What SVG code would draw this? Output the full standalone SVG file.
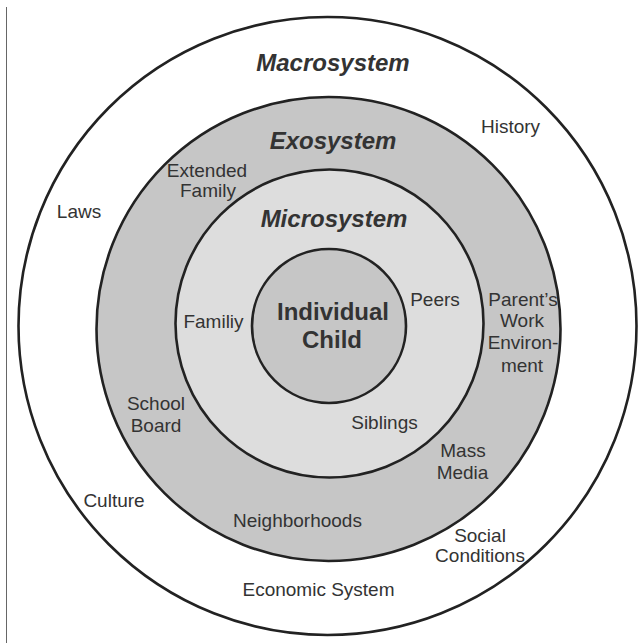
<svg xmlns="http://www.w3.org/2000/svg" width="638" height="643" viewBox="0 0 638 643">
<style>
.ring{stroke:#222;stroke-width:2.6}
.t{font-family:"Liberation Sans",Arial,sans-serif;font-size:19px;fill:#333;text-anchor:middle}
.b{font-family:"Liberation Sans",Arial,sans-serif;font-size:24px;font-weight:bold;fill:#333;text-anchor:middle}
.bi{font-family:"Liberation Sans",Arial,sans-serif;font-size:24px;font-weight:bold;font-style:italic;fill:#333;text-anchor:middle}
</style>
<rect x="0" y="0" width="638" height="643" fill="#fff"/>
<line x1="6.5" y1="7" x2="6.5" y2="643" stroke="#666" stroke-width="1"/>
<g id="macrosystem">
<circle class="ring" cx="327.5" cy="326" r="309" fill="#fff"/>
<text class="bi" x="333" y="71">Macrosystem</text>
<text class="t" x="510.5" y="133">History</text>
<text class="t" x="79" y="218">Laws</text>
<text class="t" x="114" y="507">Culture</text>
<text class="t" x="480" y="542">Social</text>
<text class="t" x="480" y="562">Conditions</text>
<text class="t" x="318.5" y="596">Economic System</text>
</g>
<g id="exosystem">
<circle class="ring" cx="328.5" cy="329" r="232" fill="#c6c6c6"/>
<text class="bi" x="333" y="149">Exosystem</text>
<text class="t" x="207" y="177">Extended</text>
<text class="t" x="208" y="197">Family</text>
<text class="t" x="523" y="306">Parent’s</text>
<text class="t" x="522" y="327">Work</text>
<text class="t" x="523" y="349">Environ-</text>
<text class="t" x="522" y="372">ment</text>
<text class="t" x="156" y="410">School</text>
<text class="t" x="156" y="432">Board</text>
<text class="t" x="463" y="457">Mass</text>
<text class="t" x="462.5" y="479">Media</text>
<text class="t" x="297.5" y="527">Neighborhoods</text>
</g>
<g id="microsystem">
<circle class="ring" cx="329.5" cy="323.5" r="154" fill="#dddddd"/>
<text class="bi" x="334" y="227">Microsystem</text>
<text class="t" x="213.5" y="328">Familiy</text>
<text class="t" x="435" y="306">Peers</text>
<text class="t" x="384.5" y="429">Siblings</text>
</g>
<g id="individual-child">
<circle class="ring" cx="329" cy="326" r="77" fill="#c6c6c6"/>
<text class="b" x="333" y="320">Individual</text>
<text class="b" x="332" y="348">Child</text>
</g>
</svg>
